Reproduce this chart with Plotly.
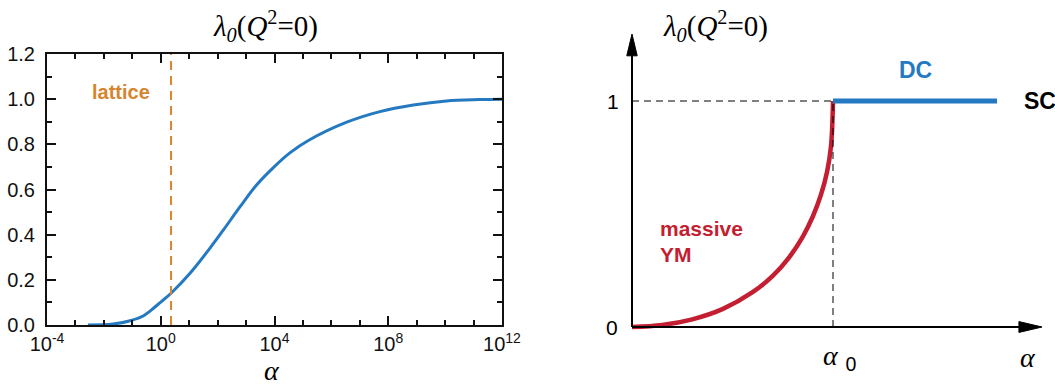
import plotly.graph_objects as go

# Left panel: lambda_0(Q^2=0) as a function of alpha (log axis)
alpha_vals = [2.75e-3, 2.1e-2, 8.3e-2, 0.24, 0.45, 0.93, 2.4, 10.7, 50, 158, 617, 2340,
              9100, 3.47e4, 1.55e5, 3.47e6, 5.1e7, 7.6e8, 1.1e10, 1.6e11, 1e12]
lambda_vals = [0.0, 0.004, 0.019, 0.040, 0.065, 0.098, 0.143, 0.229, 0.335, 0.42, 0.524, 0.62,
               0.697, 0.762, 0.817, 0.898, 0.945, 0.974, 0.992, 0.998, 1.0]
lattice_alpha = 2.3

x_tick_vals = [1e-4, 1e0, 1e4, 1e8, 1e12]
x_tick_text = ["10<sup>-4</sup>", "10<sup>0</sup>", "10<sup>4</sup>", "10<sup>8</sup>", "10<sup>12</sup>"]
x_minor_vals = [10.0 ** k for k in range(-4, 13)]
y_tick_vals = [0.0, 0.2, 0.4, 0.6, 0.8, 1.0, 1.2]
y_tick_text = ["0.0", "0.2", "0.4", "0.6", "0.8", "1.0", "1.2"]

# Right panel: schematic (alpha in units of alpha_0)
ym_alpha = [0.0, 0.15, 0.30, 0.45, 0.60, 0.70, 0.78, 0.85, 0.90, 0.94, 0.97, 0.99, 1.0]
ym_lambda = [0.0, 0.009, 0.034, 0.079, 0.154, 0.226, 0.306, 0.40, 0.49, 0.585, 0.685, 0.80, 1.0]
dc_alpha = [1.0, 1.816]
dc_lambda = [1.0, 1.0]

BLUE = "#2479C1"
RED = "#C31E32"
ORANGE = "#D6852F"
SANS = "Liberation Sans, Arial, Helvetica, sans-serif"
SERIF = "Liberation Serif, Times New Roman, serif"

W, H = 1055, 385
fig = go.Figure()

fig.add_trace(go.Scatter(x=alpha_vals, y=lambda_vals, mode="lines",
                         line=dict(color=BLUE, width=3, shape="spline", smoothing=1.0),
                         xaxis="x", yaxis="y", showlegend=False, hoverinfo="skip"))
fig.add_trace(go.Scatter(x=[lattice_alpha, lattice_alpha], y=[0, 1.2], mode="lines",
                         line=dict(color=ORANGE, width=2, dash="9px,6px"),
                         xaxis="x", yaxis="y", showlegend=False, hoverinfo="skip"))

fig.add_trace(go.Scatter(x=ym_alpha, y=ym_lambda, mode="lines",
                         line=dict(color=RED, width=4.5, shape="spline", smoothing=1.0),
                         xaxis="x2", yaxis="y2", showlegend=False, hoverinfo="skip"))
fig.add_trace(go.Scatter(x=dc_alpha, y=dc_lambda, mode="lines",
                         line=dict(color=BLUE, width=5),
                         xaxis="x2", yaxis="y2", showlegend=False, hoverinfo="skip"))

axis_common = dict(showline=True, linecolor="#111", linewidth=2, mirror="allticks",
                   ticks="inside", ticklen=9, tickwidth=2, tickcolor="#111",
                   showgrid=False, zeroline=False, automargin=False,
                   tickfont=dict(family=SANS, size=20, color="#111"))

fig.update_layout(
    width=W, height=H,
    margin=dict(l=0, r=0, t=0, b=0, autoexpand=False),
    paper_bgcolor="white", plot_bgcolor="white",
    xaxis=dict(type="log", range=[-4, 12], domain=[47 / W, 502 / W], anchor="y",
               tickmode="array", tickvals=x_tick_vals, ticktext=x_tick_text,
               minor=dict(tickmode="array", tickvals=x_minor_vals, ticks="inside",
                          ticklen=5, tickwidth=1.5, tickcolor="#111"),
               **axis_common),
    yaxis=dict(range=[0, 1.2], domain=[1 - 325 / H, 1 - 54 / H], anchor="x",
               tickmode="array", tickvals=y_tick_vals, ticktext=y_tick_text,
               ticklabelstandoff=6,
               minor=dict(dtick=0.1, ticks="inside", ticklen=5, tickwidth=1.5, tickcolor="#111"),
               **axis_common),
    xaxis2=dict(domain=[600 / W, 1.0], range=[(600 - 632) / 201, (1055 - 632) / 201],
                visible=False, anchor="y2", fixedrange=True, automargin=False),
    yaxis2=dict(domain=[0.0, 1.0], range=[(327 - 385) / 226, 327 / 226],
                visible=False, anchor="x2", fixedrange=True, automargin=False),
)

title_txt = "<i>λ</i><sub><i>0</i></sub>(<i>Q</i><sup>2</sup>=0)"
shapes = [
    # axis lines with arrowheads
    dict(type="line", xref="x2", yref="y2", x0=0, y0=0, x1=1.95, y1=0,
         line=dict(color="black", width=2)),
    dict(type="path", xref="x2", yref="y2",
         path="M 1.925 -0.024 L 2.04 0 L 1.925 0.024 Z",
         fillcolor="black", line=dict(color="black", width=1)),
    dict(type="line", xref="x2", yref="y2", x0=0, y0=0, x1=0, y1=1.22,
         line=dict(color="black", width=2)),
    dict(type="path", xref="x2", yref="y2",
         path="M -0.026 1.2 L 0 1.296 L 0.026 1.2 Z",
         fillcolor="black", line=dict(color="black", width=1)),
    # guide lines at lambda = 1 and alpha = alpha_0
    dict(type="line", xref="x2", yref="y2", x0=0, y0=1, x1=1, y1=1,
         line=dict(color="black", width=1, dash="7px,5px")),
    dict(type="line", xref="x2", yref="y2", x0=1, y0=0, x1=1, y1=1,
         line=dict(color="black", width=1, dash="7px,5px")),
]
fig.update_layout(shapes=shapes)

ann = [
    dict(xref="paper", yref="paper", x=265 / W, y=1 - 26 / H, text=title_txt,
         font=dict(family=SERIF, size=29, color="black")),
    dict(xref="paper", yref="paper", x=272 / W, y=1 - 370 / H, text="<i>α</i>",
         font=dict(family=SERIF, size=28, color="black")),
    dict(xref="x", yref="y", x=-1.4, y=1.03, text="<b>lattice</b>",
         font=dict(family=SANS, size=20, color=ORANGE)),
    dict(xref="x2", yref="y2", x=0.413, y=1.332, text=title_txt,
         font=dict(family=SERIF, size=29, color="black")),
    dict(xref="x2", yref="y2", x=-0.095, y=1.0, text="1",
         font=dict(family=SANS, size=21, color="black")),
    dict(xref="x2", yref="y2", x=-0.1, y=-0.004, text="0",
         font=dict(family=SANS, size=21, color="black")),
    dict(xref="x2", yref="y2", x=1.03, y=-0.133,
         text="<span style='font-family:Liberation Serif'><i>α</i></span> <sub>0</sub>",
         font=dict(family=SANS, size=28, color="black")),
    dict(xref="x2", yref="y2", x=1.97, y=-0.133, text="<i>α</i>",
         font=dict(family=SERIF, size=28, color="black")),
    dict(xref="x2", yref="y2", x=1.408, y=1.137, text="<b>DC</b>",
         font=dict(family=SANS, size=23, color=BLUE)),
    dict(xref="x2", yref="y2", x=2.03, y=1.0, text="<b>SC</b>",
         font=dict(family=SANS, size=23, color="black")),
    dict(xref="x2", yref="y2", x=0.129, y=0.438, text="<b>massive</b>", xanchor="left",
         font=dict(family=SANS, size=21, color=RED)),
    dict(xref="x2", yref="y2", x=0.129, y=0.319, text="<b>YM</b>", xanchor="left",
         font=dict(family=SANS, size=21, color=RED)),
]
for a in ann:
    a.setdefault("showarrow", False)
    a.setdefault("xanchor", "center")
    a.setdefault("yanchor", "middle")
fig.update_layout(annotations=ann)

fig.write_html("out.html")
